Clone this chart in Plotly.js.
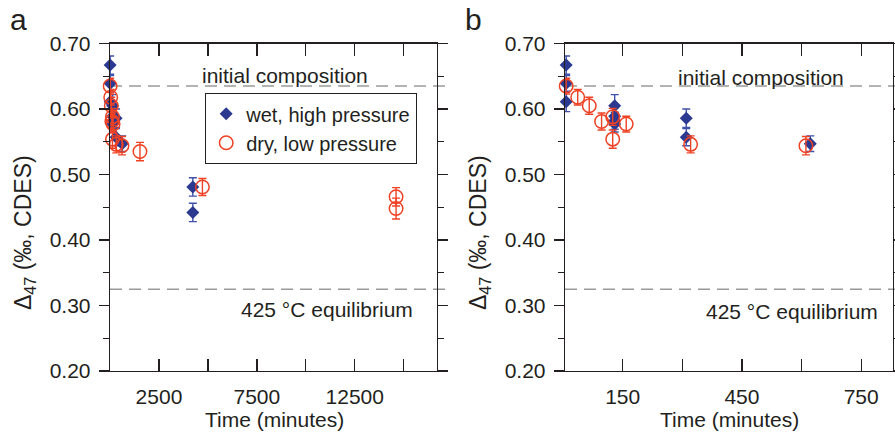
<!DOCTYPE html>
<html><head><meta charset="utf-8">
<script src="https://cdn.plot.ly/plotly-3.0.1.min.js"></script>
<style>html,body{margin:0;padding:0;background:#fff;} #chart{width:895px;height:435px;}</style>
</head><body><div id="chart"></div>
<script>
// ---- data ----
const wetTimeB = [8, 8, 8, 130, 130, 130, 130, 310, 310, 622];
const wetD47B  = [0.667, 0.639, 0.611, 0.605, 0.589, 0.582, 0.577, 0.586, 0.557, 0.547];
const wetErrB  = [0.014, 0.012, 0.015, 0.017, 0.013, 0.013, 0.012, 0.014, 0.013, 0.012];
const dryTimeB = [8, 37, 66, 97, 125, 125, 159, 321, 611];
const dryD47B  = [0.635, 0.618, 0.605, 0.581, 0.588, 0.554, 0.577, 0.546, 0.544];
const dryErrB  = [0.012, 0.012, 0.013, 0.013, 0.013, 0.014, 0.012, 0.013, 0.014];
const wetTimeLong = [4230, 4230];
const wetD47Long  = [0.481, 0.442];
const wetErrLong  = [0.014, 0.014];
const dryTimeLong = [1530, 4720, 14610, 14610];
const dryD47Long  = [0.535, 0.481, 0.466, 0.448];
const dryErrLong  = [0.014, 0.013, 0.014, 0.016];
const initialComposition = 0.635;
const equilibrium425 = 0.325;
const xTickValsA = [0, 2500, 5000, 7500, 10000, 12500, 15000];
const xTickTextA = ['', '2500', '', '7500', '', '12500', ''];
const xTickValsB = [0, 150, 300, 450, 600, 750];
const xTickTextB = ['', '150', '', '450', '', '750'];
const seriesNames = ['wet, high pressure', 'dry, low pressure'];

// ---- styles ----
const FONT = 'Liberation Sans, Arial, Helvetica, sans-serif';
const INK = '#231f20';
const NAVY = '#2b3990';
const NAVY_BAR = '#3f51a8';
const RED = '#ef4123';
const W = 895, H = 435;
const FS = 21;

function wetTrace(x, y, e, xa, ya, show) {
  return {x, y, xaxis: xa, yaxis: ya, type: 'scatter', mode: 'markers', name: seriesNames[0],
    showlegend: show, cliponaxis: false,
    marker: {symbol: 'diamond', size: 10, color: NAVY},
    error_y: {type: 'data', array: e, color: NAVY_BAR, thickness: 1.4, width: 4}};
}
function dryTrace(x, y, e, xa, ya, show) {
  return {x, y, xaxis: xa, yaxis: ya, type: 'scatter', mode: 'markers', name: seriesNames[1],
    showlegend: show, cliponaxis: false,
    marker: {symbol: 'circle-open', size: 13.5, color: RED, line: {width: 1.5, color: RED}},
    error_y: {type: 'data', array: e, color: RED, thickness: 1.4, width: 4}};
}

const data = [
  wetTrace(wetTimeB.concat(wetTimeLong), wetD47B.concat(wetD47Long), wetErrB.concat(wetErrLong), 'x', 'y', true),
  dryTrace(dryTimeB.concat(dryTimeLong), dryD47B.concat(dryD47Long), dryErrB.concat(dryErrLong), 'x', 'y', true),
  wetTrace(wetTimeB, wetD47B, wetErrB, 'x2', 'y2', false),
  dryTrace(dryTimeB, dryD47B, dryErrB, 'x2', 'y2', false)
];

const px = v => v / W;
const py = v => 1 - v / H;

function yAxis(anchor) {
  return {anchor, domain: [py(371), py(43.5)], range: [0.2, 0.7], dtick: 0.1, tick0: 0.2,
    tickformat: '.2f', ticks: 'outside', ticklen: 10, tickwidth: 1.3, tickcolor: INK,
    minor: {dtick: 0.05, ticks: 'outside', ticklen: 6, tickwidth: 1.3, tickcolor: INK},
    showline: true, linecolor: INK, linewidth: 1.3, mirror: 'ticks', showgrid: false, zeroline: false,
    ticklabelstandoff: 4, tickfont: {family: FONT, size: FS, color: INK}};
}
function xAxis(anchor, domain, range, vals, text) {
  return {anchor, domain, range, tickmode: 'array', tickvals: vals, ticktext: text,
    ticks: 'inside', ticklen: 12, tickwidth: 1.3, tickcolor: INK,
    showline: true, linecolor: INK, linewidth: 1.3, mirror: 'ticks', showgrid: false, zeroline: false,
    ticklabelstandoff: 6, tickfont: {family: FONT, size: FS, color: INK}};
}

function dashLine(xref, y, x1) {
  return {type: 'line', xref: xref + ' domain', yref: xref === 'x' ? 'y' : 'y2', x0: 0, x1, y0: y, y1: y,
    layer: 'below', line: {color: '#9a9a9a', width: 1.5, dash: '12px,7px'}};
}
function note(text, x, y, size, angle) {
  return {text, xref: 'paper', yref: 'paper', x: px(x), y: py(y), xanchor: 'center', yanchor: 'middle',
    showarrow: false, textangle: angle || 0, font: {family: FONT, size, color: INK}};
}

const layout = {
  width: W, height: H, margin: {l: 0, r: 0, t: 0, b: 0}, paper_bgcolor: '#fff', plot_bgcolor: 'rgba(0,0,0,0)',
  font: {family: FONT, color: INK},
  xaxis: xAxis('y', [px(110), px(437)], [0, 16700], xTickValsA, xTickTextA),
  yaxis: yAxis('x'),
  xaxis2: xAxis('y2', [px(565), px(893)], [5, 830], xTickValsB, xTickTextB),
  yaxis2: yAxis('x2'),
  showlegend: true,
  legend: {x: px(205), y: py(93), xanchor: 'left', yanchor: 'top', bgcolor: '#fff', bordercolor: INK, borderwidth: 1.2,
    font: {family: FONT, size: 20, color: INK}, traceorder: 'normal', tracegroupgap: 0},
  shapes: [
    dashLine('x', initialComposition, 1.025), dashLine('x', equilibrium425, 1.025),
    dashLine('x2', initialComposition, 1.02), dashLine('x2', equilibrium425, 1.02)
  ],
  annotations: [
    note('a', 18, 20, 30), note('b', 473, 20, 30),
    note('initial composition', 285, 75, FS), note('425 °C equilibrium', 327, 309, FS),
    note('initial composition', 761, 77, FS), note('425 °C equilibrium', 792, 311, FS),
    note('Time (minutes)', 274, 419, FS), note('Time (minutes)', 729, 419, FS),
    note('Δ<sub>47</sub> (‰, CDES)', 24, 233, 23, -90), note('Δ<sub>47</sub> (‰, CDES)', 479, 233, 23, -90)
  ]
};

Plotly.newPlot('chart', data, layout, {displayModeBar: false, staticPlot: true});
</script>
</body></html>
